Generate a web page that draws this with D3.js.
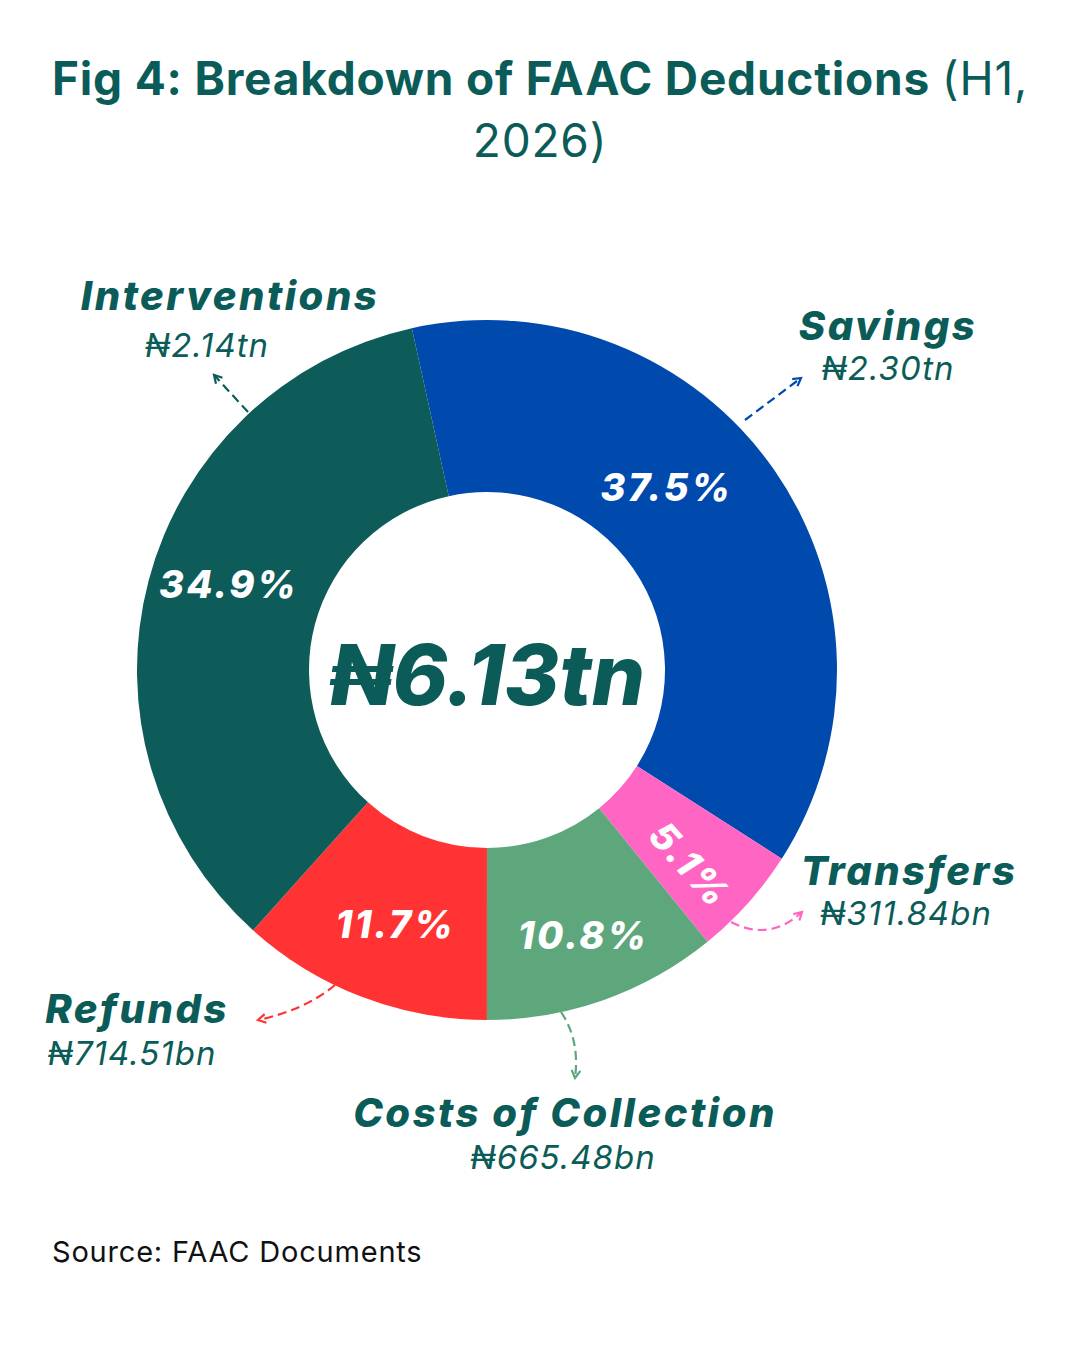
<!DOCTYPE html>
<html>
<head>
<meta charset="utf-8">
<script src="https://cdn.jsdelivr.net/npm/d3@7"></script>
<style>
  body { margin: 0; background: #fff; }
  svg text { font-family: Inter, "Noto Sans", sans-serif; }
</style>
</head>
<body>
<div id="chart"></div>
<script>
// data
var categories = ["Savings", "Transfers", "Costs of Collection", "Refunds", "Interventions"];
var amounts = [2300, 311.84, 665.48, 714.51, 2140];           // ₦ billions
var amountLabels = ["₦2.30tn", "₦311.84bn", "₦665.48bn", "₦714.51bn", "₦2.14tn"];
var pctLabels = ["37.5%", "5.1%", "10.8%", "11.7%", "34.9%"];
var colors = ["#0049ad", "#ff66c4", "#5ea77d", "#ff3333", "#0d5c5a"];
var totalLabel = "₦6.13tn";

var w = 1080, h = 1350;
var cx = 487, cy = 670;
var outerR = 350, innerR = 178;
var teal = "#0b5c58";

var svg = d3.select("#chart").append("svg")
    .attr("width", w)
    .attr("height", h);

// title
var title = svg.append("text")
    .attr("x", 540).attr("y", 95)
    .attr("text-anchor", "middle")
    .attr("font-size", 46)
    .attr("letter-spacing", 0.8)
    .attr("fill", teal);
title.append("tspan").attr("font-weight", 700).text("Fig 4: Breakdown of FAAC Deductions ");
title.append("tspan").attr("font-weight", 400).text("(H1,");
svg.append("text")
    .attr("x", 540).attr("y", 157)
    .attr("text-anchor", "middle")
    .attr("font-size", 46)
    .attr("letter-spacing", 0.8)
    .attr("fill", teal)
    .text("2026)");

// donut
var pie = d3.pie()
    .sort(null)
    .startAngle(-12.4 * Math.PI / 180)
    .endAngle((360 - 12.4) * Math.PI / 180);
var arcs = pie(amounts);
var arc = d3.arc().innerRadius(innerR).outerRadius(outerR);

var g = svg.append("g").attr("transform", "translate(" + cx + "," + cy + ")");
g.selectAll("path.slice")
   .data(arcs)
   .enter()
   .append("path")
   .attr("class", "slice")
   .attr("d", arc)
   .attr("fill", function(d, i) { return colors[i]; });

// percentage labels: start from centroid, nudge to where the original sits
var pctNudge = [[-37, -31], [6, 19], [8, 17], [3, 8], [-3, -18]];
var pctRotate = [0, 48, 0, 0, 0];
g.selectAll("text.pct")
   .data(arcs)
   .enter()
   .append("text")
   .attr("class", "pct")
   .attr("transform", function(d, i) {
       var c = arc.centroid(d);
       return "translate(" + (c[0] + pctNudge[i][0]) + "," + (c[1] + pctNudge[i][1]) + ") rotate(" + pctRotate[i] + ")";
   })
   .attr("text-anchor", "middle")
   .attr("dy", "0.35em")
   .attr("font-size", 38)
   .attr("font-weight", 800)
   .attr("font-style", "italic")
   .attr("letter-spacing", 2.5)
   .attr("fill", "#fff")
   .text(function(d, i) { return pctLabels[i]; });

// centre total
g.append("text")
   .attr("x", 0).attr("y", 35)
   .attr("text-anchor", "middle")
   .attr("font-size", 84)
   .attr("font-weight", 800)
   .attr("font-style", "italic")
   .attr("fill", teal)
   .text(totalLabel);

// category labels: [name x, name y, amount x, amount y]
var labelPos = [[888, 340, 888, 380], [909, 885, 906, 925], [565, 1127, 563, 1169],
                [137, 1023, 132, 1065], [230, 310, 207, 357]];
var lab = svg.selectAll("g.lab")
   .data(categories)
   .enter()
   .append("g")
   .attr("class", "lab");
lab.append("text")
   .attr("x", function(d, i) { return labelPos[i][0]; })
   .attr("y", function(d, i) { return labelPos[i][1]; })
   .attr("text-anchor", "middle")
   .attr("font-size", 40)
   .attr("font-weight", 800)
   .attr("font-style", "italic")
   .attr("letter-spacing", 2.5)
   .attr("fill", teal)
   .text(function(d) { return d; });
lab.append("text")
   .attr("x", function(d, i) { return labelPos[i][2]; })
   .attr("y", function(d, i) { return labelPos[i][3]; })
   .attr("text-anchor", "middle")
   .attr("font-size", 33)
   .attr("font-weight", 400)
   .attr("font-style", "italic")
   .attr("letter-spacing", 1)
   .attr("fill", teal)
   .text(function(d, i) { return amountLabels[i]; });

// dashed arrows
var defs = svg.append("defs");
colors.forEach(function(c, i) {
    defs.append("marker")
        .attr("id", "arr" + i)
        .attr("viewBox", "0 0 10 10")
        .attr("refX", 8).attr("refY", 5)
        .attr("markerWidth", 5).attr("markerHeight", 5)
        .attr("orient", "auto")
        .append("path")
        .attr("d", "M1,1 L8,5 L1,9")
        .attr("fill", "none")
        .attr("stroke", c)
        .attr("stroke-width", 2);
});
var arrowPaths = [
    "M745,420 L801,378",
    "M731,922 Q770,942 802,912",
    "M561,1012 Q580,1040 575,1078",
    "M335,985 Q305,1010 258,1020",
    "M248,412 L214,375"
];
svg.selectAll("path.arrow")
   .data(arrowPaths)
   .enter()
   .append("path")
   .attr("class", "arrow")
   .attr("d", function(d) { return d; })
   .attr("fill", "none")
   .attr("stroke", function(d, i) { return colors[i]; })
   .attr("stroke-width", 2.2)
   .attr("stroke-dasharray", "9,5")
   .attr("marker-end", function(d, i) { return "url(#arr" + i + ")"; });

// source
svg.append("text")
    .attr("x", 52).attr("y", 1262)
    .attr("font-size", 29)
    .attr("letter-spacing", 0.8)
    .attr("fill", "#111")
    .text("Source: FAAC Documents");
</script>
</body>
</html>
